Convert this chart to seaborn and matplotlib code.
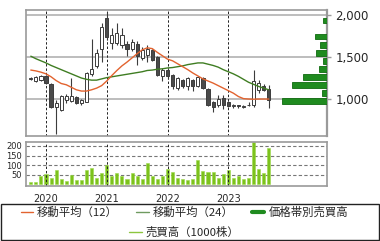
import numpy as np
import pandas as pd
import matplotlib
matplotlib.use("Agg")
import matplotlib.pyplot as plt
from matplotlib.lines import Line2D
from matplotlib.patches import Rectangle
import seaborn as sns

# ---------------- data (monthly, Oct 2019 .. Sep 2023) ----------------
months = pd.date_range("2019-10-01", periods=48, freq="MS")
opens = [1235, 1215, 1225, 1280, 1180, 900, 870, 990, 980, 1020, 950, 970,
         1300, 1390, 1600, 1960, 1665, 1670, 1640, 1660, 1590, 1660, 1490, 1525,
         1580, 1500, 1270, 1345, 1285, 1130, 1225, 1150, 1225, 1150, 1250, 1125,
         960, 930, 1015, 960, 915, 920, 910, 925, 930, 1110, 1160, 1120]
highs = [1260, 1275, 1285, 1290, 1195, 990, 1050, 1060, 1245, 1040, 1000, 1320,
         1715, 1600, 1900, 2040, 1840, 1900, 1840, 1690, 1720, 1690, 1620, 1640,
         1600, 1510, 1365, 1370, 1300, 1260, 1240, 1265, 1240, 1280, 1260, 1135,
         975, 1045, 1045, 975, 945, 935, 935, 960, 1345, 1225, 1180, 1165]
lows = [1225, 1205, 1210, 1180, 890, 580, 860, 950, 960, 945, 930, 960,
        1280, 1370, 1440, 1700, 1590, 1640, 1610, 1510, 1570, 1400, 1470, 1445,
        1450, 1280, 1210, 1240, 1120, 1110, 1130, 1105, 1090, 1140, 1120, 920,
        850, 900, 880, 900, 895, 890, 895, 915, 910, 1070, 1090, 890]
closes = [1245, 1265, 1270, 1190, 900, 950, 1035, 1035, 1035, 950, 990, 1310,
          1360, 1550, 1860, 1740, 1760, 1790, 1760, 1600, 1680, 1510, 1580, 1600,
          1470, 1290, 1345, 1270, 1150, 1245, 1150, 1245, 1150, 1265, 1130, 930,
          910, 1005, 930, 915, 925, 915, 920, 935, 1220, 1190, 1110, 990]
ma12 = [1345, 1335, 1320, 1300, 1265, 1220, 1185, 1170, 1140, 1110, 1095, 1095,
        1110, 1130, 1160, 1215, 1280, 1340, 1395, 1440, 1490, 1540, 1585, 1610,
        1600, 1555, 1515, 1475, 1455, 1420, 1385, 1350, 1310, 1275, 1240, 1215,
        1190, 1160, 1130, 1100, 1070, 1030, 1005, 1000, 998, 1000, 1000, 1000]
ma24 = [1510, 1480, 1455, 1430, 1400, 1375, 1350, 1325, 1300, 1275, 1250, 1235,
        1225, 1225, 1240, 1255, 1265, 1275, 1285, 1295, 1305, 1315, 1325, 1340,
        1345, 1355, 1360, 1370, 1375, 1385, 1395, 1410, 1420, 1430, 1430, 1415,
        1400, 1380, 1350, 1325, 1300, 1270, 1235, 1200, 1175, 1150, 1130, 1110]
volume = [15, 15, 42, 54, 31, 75, 26, 16, 47, 21, 21, 75,
          85, 36, 59, 99, 42, 59, 42, 26, 59, 42, 26, 111,
          42, 26, 42, 78, 64, 35, 26, 21, 26, 127, 69, 64,
          64, 36, 54, 75, 31, 42, 26, 31, 222, 80, 59, 191]
profile_price = [975, 1071, 1167, 1263, 1359, 1455, 1551, 1647, 1743, 1839, 1935]
profile_volume = [450, 50, 350, 240, 80, 40, 110, 67, 120, 0, 40]
year_labels = ["2020", "2021", "2022", "2023"]
price_ticks = [1000, 1500, 2000]
volume_ticks = [50, 100, 150, 200]
legend_labels = ["移動平均（12）", "移動平均（24）", "価格帯別売買高", "売買高（1000株）"]

# ---------------- style ----------------
sns.set_style("white")
plt.rcParams["font.family"] = ["DejaVu Sans"]
JP = ["Noto Sans CJK JP", "DejaVu Sans"]

C_MA12 = "#e2632f"
C_MA24 = "#3f7d22"
C_VOL = "#7cc21c"
C_PROF = "#1f8b1f"
C_CANDLE = "#3c3c3c"
C_SPINE = "#9a9a9a"

W, H = 380, 241
fig = plt.figure(figsize=(3.8, 2.41), dpi=100)

def fx(px):
    return px / W

def fy(py):
    return 1 - py / H

idx = np.arange(len(months))
year_pos = [int(np.where((months.year == int(y)) & (months.month == 1))[0][0]) for y in year_labels]
xlim = (-0.95, 58.5)

# ---------------- main price axes ----------------
ax = fig.add_axes([fx(26), fy(136), fx(327 - 26), (136 - 10) / H])
ax.set_xlim(*xlim)
ax.set_ylim(560, 2060)

for p in price_ticks:
    ax.axhline(p, color="#bdbdbd", lw=1.4, zorder=0)
for xp in year_pos:
    ax.axvline(xp, color="#222222", lw=0.7, ls=(0, (2.5, 2)), zorder=1)

o = np.array(opens, float)
c = np.array(closes, float)
hi = np.array(highs, float)
lo = np.array(lows, float)
ax.vlines(idx, lo, hi, color=C_CANDLE, lw=0.8, zorder=3)
body_bottom = np.minimum(o, c)
body_h = np.maximum(np.abs(c - o), 10)
fills = ["white" if cc >= oo else "#4a4a4a" for oo, cc in zip(o, c)]
ax.bar(idx, body_h, bottom=body_bottom, width=0.62, color=fills,
       edgecolor=C_CANDLE, linewidth=0.7, zorder=4)

df_ma = pd.DataFrame({"i": idx, "ma12": ma12, "ma24": ma24})
sns.lineplot(data=df_ma, x="i", y="ma24", ax=ax, color=C_MA24, lw=1.0, zorder=5)
sns.lineplot(data=df_ma, x="i", y="ma12", ax=ax, color=C_MA12, lw=1.0, zorder=5)
ax.set_xlabel("")
ax.set_ylabel("")
ax.set_xticks([])
ax.yaxis.tick_right()
ax.set_yticks(price_ticks)
ax.set_yticklabels([f"{p:,}" for p in price_ticks], fontsize=8.5)
ax.tick_params(axis="y", length=3, width=1, color=C_SPINE, pad=3)
for s in ax.spines.values():
    s.set_color(C_SPINE)
    s.set_linewidth(1.2)
ax.spines["right"].set_linewidth(1.6)

# price-volume profile on a twin axis sharing the price scale
ax2 = ax.twiny()
ax2.barh(profile_price, profile_volume, height=68, color=C_PROF,
         edgecolor="#0f6a0f", linewidth=0.6, zorder=2)
ax2.set_xlim(3010, 0)
ax2.set_xticks([])
for s in ax2.spines.values():
    s.set_visible(False)

# ---------------- volume axes ----------------
axv = fig.add_axes([fx(26), fy(186), fx(327 - 26), (186 - 142) / H])
df_v = pd.DataFrame({"i": idx, "v": volume})
sns.barplot(data=df_v, x="i", y="v", ax=axv, native_scale=True, color=C_VOL,
            width=0.6, saturation=1, edgecolor="#9bd84a", linewidth=0.4)
axv.set_xlim(*xlim)
axv.set_ylim(-8, 220)
for v in volume_ticks:
    axv.axhline(v, color="#777777", lw=0.8, ls=(0, (3, 2)), zorder=0)
for xp in year_pos:
    axv.axvline(xp, color="#222222", lw=0.7, ls=(0, (2.5, 2)), zorder=1)
axv.set_yticks(volume_ticks)
axv.set_yticklabels([str(v) for v in volume_ticks], fontsize=6)
axv.tick_params(axis="y", length=0, pad=3)
axv.set_xticks(year_pos)
axv.set_xticklabels(year_labels, fontsize=7)
axv.tick_params(axis="x", length=5, width=0.7, color="#333333", pad=1)
axv.set_xlabel("")
axv.set_ylabel("")
for s in axv.spines.values():
    s.set_color(C_SPINE)
    s.set_linewidth(1.2)

# ---------------- legend ----------------
frame = Rectangle((fx(1), fy(240)), fx(378), (240 - 204) / H, transform=fig.transFigure,
                  facecolor="white", edgecolor="#222222", lw=1.0)
fig.patches.append(frame)
handles = [Line2D([], [], color=C_MA12, lw=1.0),
           Line2D([], [], color="#6f9a60", lw=1.0),
           Line2D([], [], color=C_PROF, lw=3.0),
           Line2D([], [], color="#8cc63f", lw=1.0)]
leg_kw = dict(frameon=False, handlelength=1.1, handletextpad=0.35, borderpad=0,
              prop={"family": JP, "size": 8.2})
leg1 = fig.legend(handles[:3], legend_labels[:3], loc="center", ncol=3,
                  columnspacing=1.6, bbox_to_anchor=(0.485, fy(212)), **leg_kw)
leg2 = fig.legend(handles[3:], legend_labels[3:], loc="center", ncol=1,
                  bbox_to_anchor=(0.485, fy(232)), **leg_kw)

fig.savefig("out.png", dpi=100)
